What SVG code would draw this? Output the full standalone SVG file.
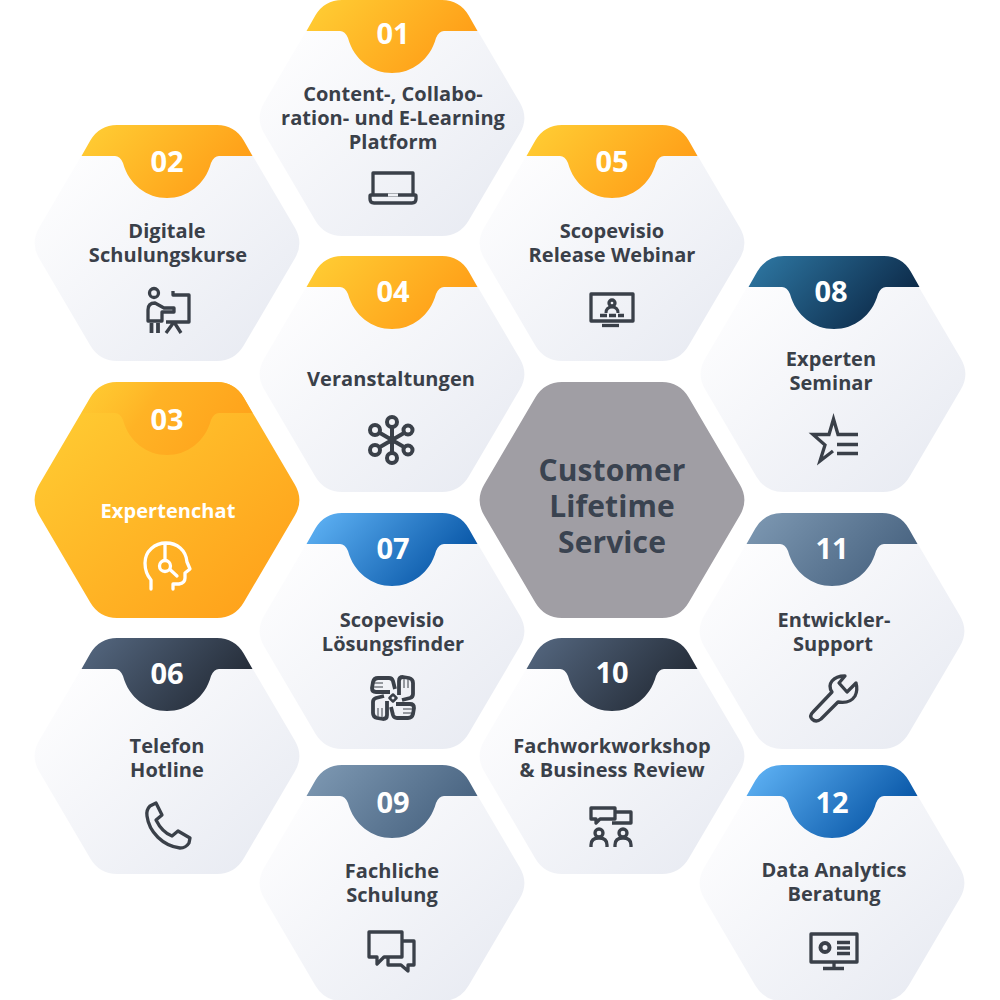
<svg xmlns="http://www.w3.org/2000/svg" width="1000" height="1000" viewBox="0 0 1000 1000">
<defs>
<linearGradient id="gh" x1="0" y1="0" x2="1" y2="1"><stop offset="0.15" stop-color="#fdfdfe"/><stop offset="1" stop-color="#e6e9f1"/></linearGradient>
<linearGradient id="gOrangeHex" x1="0" y1="0" x2="1" y2="1"><stop offset="0" stop-color="#ffd035"/><stop offset="1" stop-color="#ff9d18"/></linearGradient>
<linearGradient id="gOrange03" x1="0" y1="0" x2="1" y2="0.3"><stop offset="0" stop-color="#ffc52f" stop-opacity="0"/><stop offset="0.45" stop-color="#ffb325"/><stop offset="1" stop-color="#ffa41c"/></linearGradient>
<linearGradient id="gOrange" x1="0" y1="0" x2="1" y2="0.4"><stop offset="0" stop-color="#ffcf35"/><stop offset="1" stop-color="#ff9f18"/></linearGradient>
<linearGradient id="gDark" x1="0" y1="0" x2="1" y2="0.4"><stop offset="0" stop-color="#566982"/><stop offset="1" stop-color="#262e3a"/></linearGradient>
<linearGradient id="gNavy" x1="0" y1="0" x2="1" y2="0.4"><stop offset="0" stop-color="#2f7aa6"/><stop offset="1" stop-color="#0d2b4a"/></linearGradient>
<linearGradient id="gSlate" x1="0" y1="0" x2="1" y2="0.4"><stop offset="0" stop-color="#7f9ab4"/><stop offset="1" stop-color="#4a6582"/></linearGradient>
<linearGradient id="gBlue" x1="0" y1="0" x2="1" y2="0.4"><stop offset="0" stop-color="#62b6f8"/><stop offset="1" stop-color="#0a58a8"/></linearGradient>
<path id="hex" d="M-127.800-15.500L-76.700-102.500Q-67.500-118-50-118H50Q67.500-118 76.700-102.500L127.800-15.500Q137 0 127.800 15.500L76.700 102.500Q67.500 118 50 118H-50Q-67.500 118-76.700 102.500L-127.800 15.500Q-137 0-127.800-15.500Z"/>
<path id="tab" d="M-85.500-87L-76.700-102.500Q-67.500-118-50-118H50Q67.500-118 76.700-102.500L85.500-87H52Q47-87 44-80C38-58 20-45 0-45C-20-45-38-58-44-80Q-47-87-52-87Z"/>
<g id="hand"><path class="ic" style="stroke-width:3.800" d="M-3-6H-17Q-21-6-21-10L-20-16Q-19-20-15-20H-4Q-1-20 0-17L2-9"/><path d="M-19-15H-10M-19-11H-10" stroke="#3a4049" stroke-width="1"/></g>
</defs>
<style>
.hx{fill:url(#gh)}
.num{font:700 29px "Open Sans","Noto Sans",sans-serif;fill:#fff;text-anchor:middle}
.lbl{font:700 20px "Open Sans","Noto Sans",sans-serif;fill:#3a4049;text-anchor:middle;letter-spacing:.05px}
.ctr{font:700 30px "Open Sans","Noto Sans",sans-serif;fill:#3a4350;text-anchor:middle;letter-spacing:.1px}
.ic{fill:none;stroke:#3a4049;stroke-width:3.300;stroke-linejoin:round}
.icw{fill:none;stroke:#fff;stroke-width:3.300;stroke-linejoin:round;stroke-linecap:round}
.ln{fill:none;stroke:#3a4049;stroke-width:3.300}
.fo{fill:url(#gOrange)}.fd{fill:url(#gDark)}.fn{fill:url(#gNavy)}.fs{fill:url(#gSlate)}.fb{fill:url(#gBlue)}
</style>

<g id="node-01">
<use href="#hex" x="392" y="118" class="hx"/><use href="#tab" x="392" y="118" class="fo"/>
<text x="393" y="44" class="num">01</text>
<text x="393" y="101" class="lbl">Content-, Collabo-</text><text x="393" y="125" class="lbl">ration- und E-Learning</text><text x="393" y="149" class="lbl">Platform</text>
<path class="ic" d="M373 194V173H413V194M371 195H415Q416 195 416 196V199Q416 203 412 203H374Q370 203 370 199V196Q370 195 371 195Z"/>
<path d="M388 195h10" stroke="#eef0f5" stroke-width="3"/>
</g>

<g id="node-02">
<use href="#hex" x="167" y="243" class="hx"/><use href="#tab" x="167" y="243" class="fo"/>
<text x="167" y="172" class="num">02</text>
<text x="167" y="238" class="lbl">Digitale</text><text x="168" y="262" class="lbl">Schulungskurse</text>
<circle class="ic" cx="154" cy="293" r="4.500"/>
<path class="ic" d="M173 291V295H189V322H166M174 322L166 333M174 322L181 333"/>
<path class="ic" d="M148 320V310Q148 303 155 303L164 308H174V312H162V321H148Z"/>
<path class="ln" d="M151.500 323V333M158 323V333" style="stroke-width:3.800"/>
</g>

<g id="node-03">
<use href="#hex" x="167" y="500" fill="url(#gOrangeHex)"/><use href="#tab" x="167" y="500" fill="url(#gOrange03)"/>
<text x="167" y="430" class="num">03</text>
<text x="168" y="518" class="lbl" style="fill:#fff">Expertenchat</text>
<path class="icw" d="M151 589V580Q145 573 145 563C145 551 155 543 166 543C177 543 186 550 187 562L190 569L185 573V578Q185 583 179 584H173V589M165 544V560M170.500 570L177 576"/>
<circle class="icw" cx="165" cy="566" r="5.500"/>
</g>

<g id="node-04">
<use href="#hex" x="392" y="374" class="hx"/><use href="#tab" x="392" y="374" class="fo"/>
<text x="393" y="302" class="num">04</text>
<text x="391" y="386" class="lbl">Veranstaltungen</text>
<g class="ic" style="stroke-width:4"><path d="M392 427V453M380 433L404 447M380 447L404 433"/>
<g style="fill:#f2f3f7"><circle cx="392" cy="422" r="5"/><circle cx="408" cy="430" r="4.500"/><circle cx="408" cy="450" r="4.500"/><circle cx="392" cy="458" r="5"/><circle cx="375" cy="450" r="5"/><circle cx="375" cy="430" r="5"/><circle cx="392" cy="440" r="2"/></g></g>
</g>

<g id="node-05">
<use href="#hex" x="612" y="243" class="hx"/><use href="#tab" x="612" y="243" class="fo"/>
<text x="612" y="172" class="num">05</text>
<text x="612" y="238" class="lbl">Scopevisio</text><text x="612" y="262" class="lbl">Release Webinar</text>
<rect class="ic" x="591" y="294" width="42" height="27"/>
<path class="ln" d="M602 325.500H619"/>
<circle class="ic" cx="612" cy="303" r="3"/>
<path class="ic" d="M606 313Q606 307 612 307Q618 307 618 313" style="stroke-width:3"/>
<path class="ln" d="M600 315.500H607M609 315.500H616M618 315.500H624"/>
</g>

<g id="node-06">
<use href="#hex" x="167" y="756" class="hx"/><use href="#tab" x="167" y="756" class="fd"/>
<text x="167" y="684" class="num">06</text>
<text x="167" y="753" class="lbl">Telefon</text><text x="167" y="777" class="lbl">Hotline</text>
<path class="ic" d="M150 806Q146 810 147 816C149 832 163 846 180 848Q186 848 189 843L190 838L178 831L172 836C164 833 159 826 156 820L162 815L156 803Z"/>
</g>

<g id="node-07">
<use href="#hex" x="392" y="631" class="hx"/><use href="#tab" x="392" y="631" class="fb"/>
<text x="393" y="559" class="num">07</text>
<text x="392" y="627" class="lbl">Scopevisio</text><text x="393" y="651" class="lbl">Lösungsfinder</text>
<g transform="translate(393,698)">
<use href="#hand"/><use href="#hand" transform="rotate(90)"/><use href="#hand" transform="rotate(180)"/><use href="#hand" transform="rotate(270)"/>
<rect class="ic" x="-2.500" y="-2.500" width="5" height="5" transform="rotate(45)" style="stroke-width:2.500"/>
</g>
</g>

<g id="node-08">
<use href="#hex" x="833" y="374" class="hx"/><use href="#tab" x="834" y="374" class="fn"/>
<text x="831" y="302" class="num">08</text>
<text x="831" y="366" class="lbl">Experten</text><text x="831" y="390" class="lbl">Seminar</text>
<path class="ic" d="M858 434.500H838L833.500 419L829 434.500H813L825 445L820 461L833 451" style="stroke-linejoin:miter"/>
<path class="ln" d="M837 444.500H858M837 453.500H858"/>
</g>

<g id="node-09">
<use href="#hex" x="392" y="883" class="hx"/><use href="#tab" x="392" y="883" class="fs"/>
<text x="393" y="813" class="num">09</text>
<text x="392" y="878" class="lbl">Fachliche</text><text x="392" y="902" class="lbl">Schulung</text>
<path class="ic" d="M369 932H402V957H384L377 964V957H369Z"/>
<path class="ic" d="M402 941H414V965H408V971L401 965H388V957"/>
</g>

<g id="node-10">
<use href="#hex" x="612" y="756" class="hx"/><use href="#tab" x="612" y="756" class="fd"/>
<text x="612" y="683" class="num">10</text>
<text x="612" y="753" class="lbl">Fachworkworkshop</text><text x="612" y="777" class="lbl">&amp; Business Review</text>
<path class="ic" d="M591 808H615V819H600L596 823V819H591Z"/>
<path class="ic" d="M615 812H631V823H612"/>
<g class="ic"><circle cx="599" cy="833" r="4"/><circle cx="623" cy="833" r="4"/><path d="M591 847V845Q591 838 599 838Q607 838 607 845V847M615 847V845Q615 838 623 838Q631 838 631 845V847"/></g>
</g>

<g id="node-11">
<use href="#hex" x="832" y="631" class="hx"/><use href="#tab" x="832" y="631" class="fs"/>
<text x="832" y="559" class="num">11</text>
<text x="834" y="627" class="lbl">Entwickler-</text><text x="833" y="651" class="lbl">Support</text>
<path class="ic" d="M813 712L832 692Q828 686 832 681Q836 676 845 676L839 683L847 692L856 683Q858 690 855 696Q850 704 838 702L821 719Q816 723 812 719Q809 716 813 712Z"/>
</g>

<g id="node-12">
<use href="#hex" x="832" y="883" class="hx"/><use href="#tab" x="832" y="883" class="fb"/>
<text x="832" y="813" class="num">12</text>
<text x="834" y="877" class="lbl">Data Analytics</text><text x="834" y="901" class="lbl">Beratung</text>
<rect class="ic" x="811" y="934" width="46" height="28"/>
<path class="ln" d="M834 962V968M823 968.500H844"/>
<circle cx="825" cy="947.500" r="4.500" fill="none" stroke="#3a4049" stroke-width="4"/>
<path class="ln" d="M837 942.500H850M837 948H850M837 953.500H850"/>
</g>

<g id="node-center">
<use href="#hex" x="612" y="500" fill="#a09ea4"/>
<text x="612" y="481" class="ctr">Customer</text>
<text x="612" y="517" class="ctr">Lifetime</text>
<text x="612" y="553" class="ctr">Service</text>
</g>
</svg>
